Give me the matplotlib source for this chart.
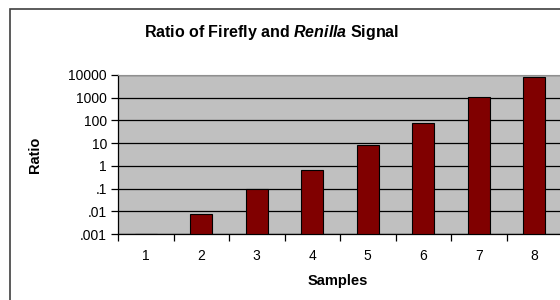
import numpy as np
import matplotlib.pyplot as plt
from matplotlib.ticker import FixedLocator

plt.rcParams["font.family"] = ["Liberation Sans", "DejaVu Sans"]
plt.rcParams["mathtext.fontset"] = "custom"
plt.rcParams["mathtext.it"] = "Liberation Sans:italic:bold"

samples = [1, 2, 3, 4, 5, 6, 7, 8]
ratios = [0.001, 0.0075, 0.093, 0.66, 8.5, 75, 1100, 8000]
ytick_vals = [0.001, 0.01, 0.1, 1, 10, 100, 1000, 10000]
ytick_labels = [".001", ".01", ".1", "1", "10", "100", "1000", "10000"]

ymin = 0.001
fig = plt.figure(figsize=(5.6, 3.0), dpi=100)
ax = fig.add_axes([118 / 560, 66 / 300, 444 / 560, 159 / 300])

# chart border (right and bottom edges fall outside the image)
fig.add_artist(plt.Rectangle((10 / 560, -0.05), 1.0, 291 / 300 + 0.05,
                             transform=fig.transFigure, fill=False,
                             edgecolor="#404040", linewidth=1.2))

ax.set_facecolor("#c0c0c0")
ax.set_yscale("log")
heights = np.array(ratios) - ymin
ax.bar(samples, heights, bottom=ymin, width=0.4, color="#800000",
       edgecolor="black", linewidth=0.8, zorder=3)

ax.set_ylim(ymin, 10000)
ax.set_xlim(0.5, 8.5)
ax.yaxis.set_major_locator(FixedLocator(ytick_vals))
ax.set_yticklabels(ytick_labels)
ax.yaxis.set_minor_locator(FixedLocator([]))
ax.grid(axis="y", color="black", linewidth=0.9, zorder=1)

ax.set_xticks(samples)
ax.set_xticklabels([str(s) for s in samples])
ax.set_xticks(np.arange(0.5, 9, 1), minor=True)
ax.tick_params(axis="x", which="major", length=0, pad=11, labelsize=10)
ax.tick_params(axis="x", which="minor", length=5, direction="out", width=0.9)
ax.tick_params(axis="y", which="major", length=5, width=0.9, pad=3, labelsize=10)

ax.spines["right"].set_visible(False)
ax.spines["top"].set_color("#909090")
ax.spines["left"].set_linewidth(0.9)
ax.spines["bottom"].set_linewidth(0.9)

fig.text(272 / 560, 1 - 32 / 300, "Ratio of Firefly and $\\it{Renilla}$ Signal",
         ha="center", va="center", fontsize=11.5, fontweight="bold")
fig.text(35 / 560, 1 - 155 / 300, "Ratio", rotation=90, ha="center", va="center",
         fontsize=10.5, fontweight="bold")
fig.text(338 / 560, 1 - 281 / 300, "Samples", ha="center", va="center",
         fontsize=10.5, fontweight="bold")

fig.savefig("out.png", dpi=100)
